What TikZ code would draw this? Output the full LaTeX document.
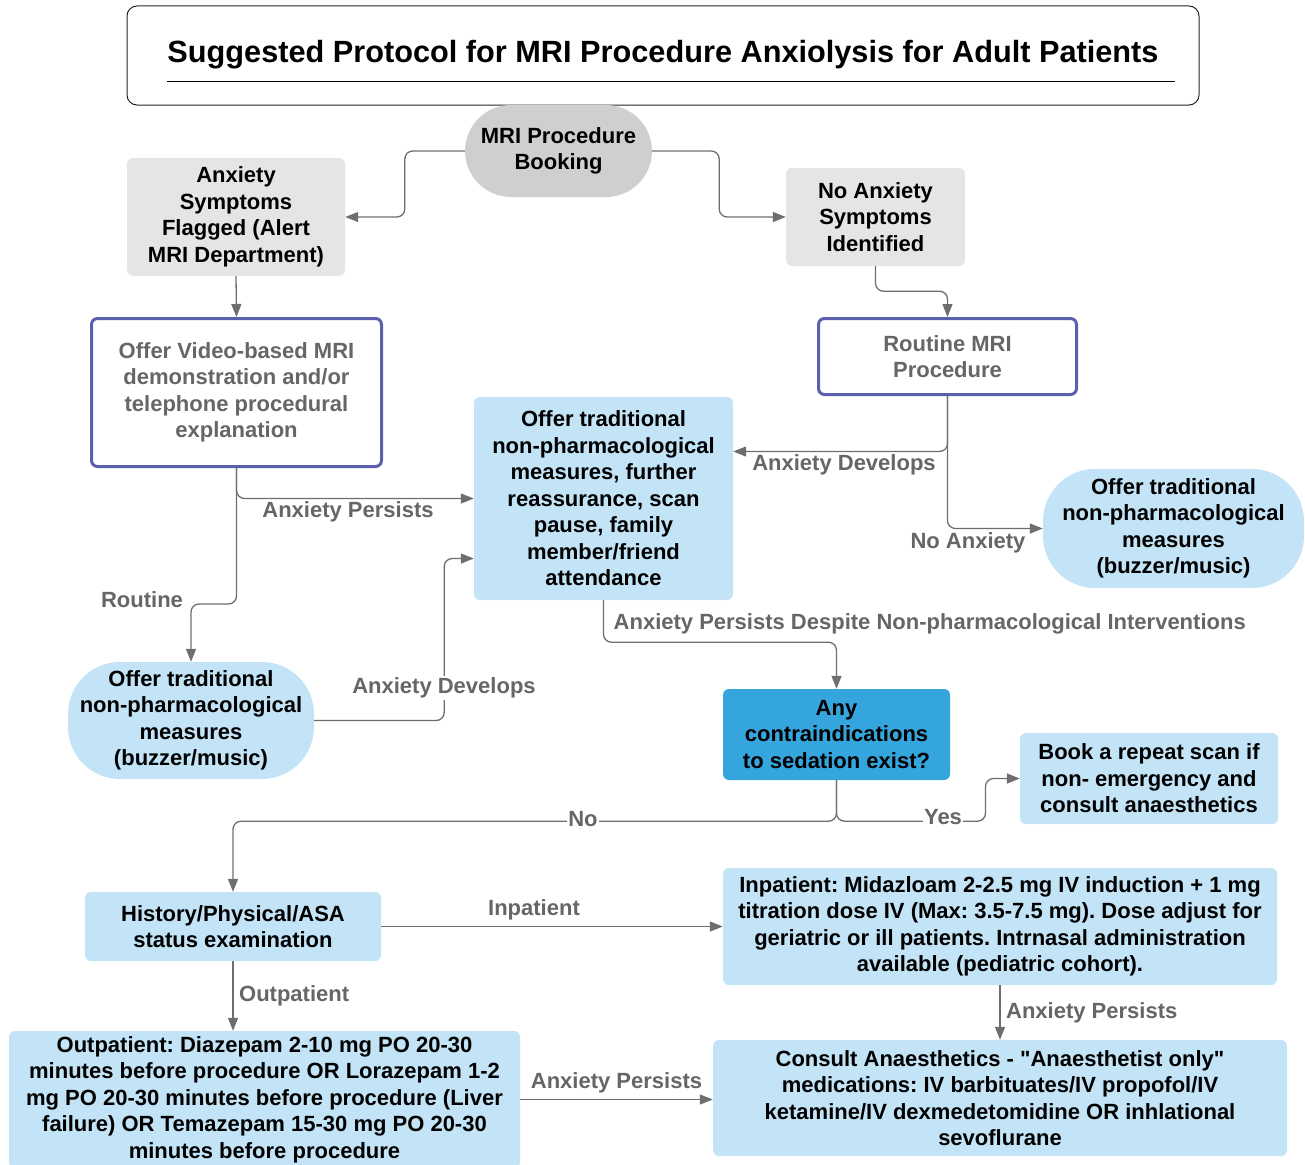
\documentclass[tikz,border=0pt]{standalone}
\usepackage{fontspec}
\setmainfont[Ligatures=TeXOff]{Liberation Sans}
\usetikzlibrary{arrows.meta,calc}
\frenchspacing

\definecolor{boxgrey}{HTML}{E5E5E5}
\definecolor{pillgrey}{HTML}{CFCFCF}
\definecolor{paleblue}{HTML}{C3E4F6}
\definecolor{deepblue}{HTML}{35A5DD}
\definecolor{framepurple}{HTML}{5A5FAE}
\definecolor{textgrey}{HTML}{666666}
\definecolor{wiregrey}{HTML}{6E6E6E}

\tikzset{
  boxtext/.style={font=\fontsize{22}{26.5}\selectfont\bfseries, align=center,
    inner sep=0pt, rounded corners=6pt},
  greybox/.style={boxtext, fill=boxgrey},
  bluebox/.style={boxtext, fill=paleblue},
  askbox/.style={boxtext, fill=deepblue},
  framebox/.style={boxtext, draw=framepurple, line width=3pt, fill=white, text=textgrey},
  pill/.style={boxtext, fill=paleblue, rounded corners=52pt},
  flow/.style={draw=wiregrey, line width=1.3pt, rounded corners=8pt,
    -{Triangle[length=13pt,width=10pt]}},
  lbl/.style={font=\fontsize{22}{26.5}\selectfont\bfseries, text=textgrey,
    inner sep=1.5pt, fill=white},
}

\begin{document}
\begin{tikzpicture}[x=1pt, y=-1pt]
  \useasboundingbox (0,0) rectangle (1305,1164);

  % heading
  \node[draw=black!85, line width=1pt, rounded corners=10pt,
    minimum width=1072pt, minimum height=99pt] (title) at (663,55.5) {};
  \node[font=\fontsize{30.7}{34}\selectfont\bfseries] (heading) at (663,55)
    {Suggested Protocol for MRI Procedure Anxiolysis for Adult Patients};
  \draw[line width=1pt] (167,81) -- (1175,81);

  % top row
  \node[boxtext, fill=pillgrey, rounded corners=46pt, minimum width=187pt,
    minimum height=92pt] (book) at (558.5,151) {MRI Procedure\\Booking};
  \node[greybox, minimum width=218pt, minimum height=118pt] (flag) at (236,217)
    {Anxiety\\Symptoms\\Flagged (Alert\\MRI Department)};
  \node[greybox, minimum width=179pt, minimum height=98pt] (noanx) at (875.5,217)
    {No Anxiety\\Symptoms\\Identified};

  % second row
  \node[framebox, minimum width=290pt, minimum height=148pt] (video) at (236.5,392.5)
    {Offer Video-based MRI\\demonstration and/or\\telephone procedural\\explanation};
  \node[framebox, minimum width=258pt, minimum height=76pt] (routine) at (947.5,356.5)
    {Routine MRI\\Procedure};
  \node[bluebox, minimum width=259pt, minimum height=203pt] (calm) at (603.5,498.5)
    {Offer traditional\\non-pharmacological\\measures, further\\reassurance, scan\\pause, family\\member/friend\\attendance};
  \node[pill, minimum width=261pt, minimum height=119pt] (stadR) at (1173.5,528.5)
    {Offer traditional\\non-pharmacological\\measures\\(buzzer/music)};
  \node[pill, minimum width=246pt, minimum height=117pt] (stadL) at (191,720.5)
    {Offer traditional\\non-pharmacological\\measures\\(buzzer/music)};

  % sedation decision
  \node[askbox, minimum width=227pt, minimum height=91pt] (contra) at (836.5,734.5)
    {Any\\contraindications\\to sedation exist?};
  \node[bluebox, minimum width=258pt, minimum height=91pt] (rebook) at (1149,778.5)
    {Book a repeat scan if\\non- emergency and\\consult anaesthetics};

  % medication
  \node[bluebox, minimum width=296pt, minimum height=69pt] (hist) at (233,926.5)
    {History/Physical/ASA\\status examination};
  \node[bluebox, minimum width=554pt, minimum height=117pt] (inpat) at (1000,926.5)
    {Inpatient: Midazloam 2-2.5 mg IV induction + 1 mg\\titration dose IV (Max: 3.5-7.5 mg). Dose adjust for\\geriatric or ill patients. Intrnasal administration\\available (pediatric cohort).};
  \node[bluebox, minimum width=511pt, minimum height=137pt] (outpat) at (264.5,1099.5)
    {Outpatient: Diazepam 2-10 mg PO 20-30\\minutes before procedure OR Lorazepam 1-2\\mg PO 20-30 minutes before procedure (Liver\\failure) OR Temazepam 15-30 mg PO 20-30\\minutes before procedure};
  \node[bluebox, minimum width=574pt, minimum height=116pt] (consult) at (1000,1098)
    {Consult Anaesthetics - "Anaesthetist only"\\medications: IV barbituates/IV propofol/IV\\ketamine/IV dexmedetomidine OR inhlational\\sevoflurane};

  % connectors
  \draw[flow] (book.west) -- ++(-60,0) |- (flag.east);
  \draw[flow] (book.east) -- ++(67,0) |- (noanx.west);
  \draw[flow] (flag.south) -- (video.north);
  \draw[flow] (noanx.south) -- ++(0,25) -| (routine.north);

  \draw[flow] (video.south) |- (calm.west);
  \node[lbl] (persist1) at (348,512) {Anxiety Persists};
  \draw[flow] (video.south) -- ++(0,136) -| (stadL.north);
  \node[lbl] (routinelbl) at (142,600) {Routine};
  \draw[flow] (stadL.east) -- ++(130,0) |- ($(calm.west)+(0,60)$);
  \node[lbl] (develop1) at (444,688) {Anxiety Develops};

  \draw[flow] (routine.south) |- ($(calm.east)+(0,-47)$);
  \node[lbl] (develop2) at (844,465) {Anxiety Develops};
  \draw[flow] (routine.south) |- (stadR.west);
  \node[lbl] (noanxlbl) at (968,543) {No Anxiety};

  \draw[flow] (calm.south) -- ++(0,42) -| (contra.north);
  \node[lbl, anchor=west] (despite) at (612,624)
    {Anxiety Persists Despite Non-pharmacological Interventions};

  \draw[flow] (contra.south) -- ++(0,41) -| (hist.north);
  \node[lbl] (nolbl) at (583,819) {No};
  \draw[flow] (contra.south) -- ++(0,41) -- ++(149,0) |- (rebook.west);
  \node[lbl] (yeslbl) at (943,817) {Yes};

  \draw[flow] (hist.east) -- node[lbl, above=4pt, xshift=-18pt] (inlbl) {Inpatient} (inpat.west);
  \draw[flow] (hist.south) -- node[lbl, right=4pt] (outlbl) {Outpatient} (hist.south |- outpat.north);
  \draw[flow] (inpat.south) -- node[lbl, right=4pt] (persist2) {Anxiety Persists} (consult.north);
  \draw[flow] (outpat.east) -- node[lbl, above=4pt] (persist3) {Anxiety Persists} (outpat.east -| consult.west);
\end{tikzpicture}
\end{document}
